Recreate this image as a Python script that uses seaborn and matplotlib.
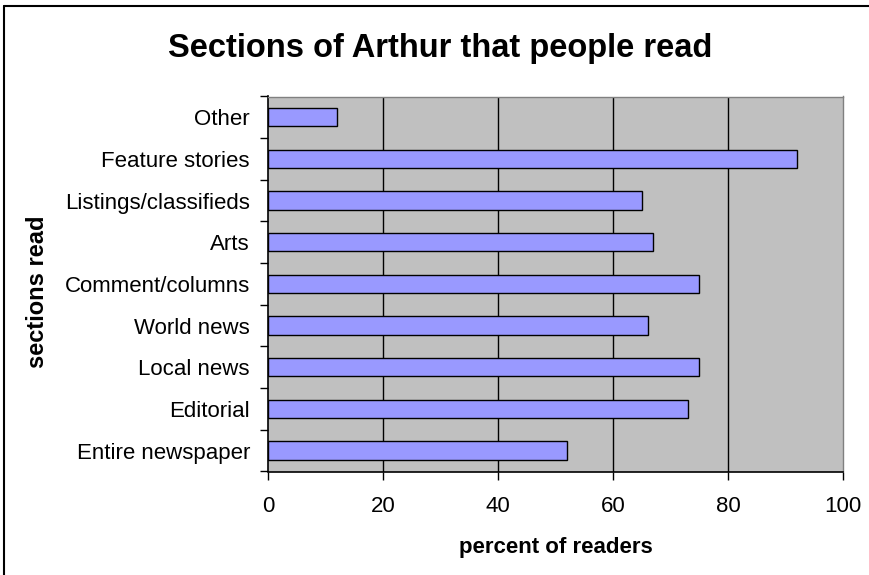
import matplotlib
matplotlib.use("Agg")
import matplotlib.pyplot as plt
import seaborn as sns
import pandas as pd
from matplotlib.lines import Line2D

categories = ["Other", "Feature stories", "Listings/classifieds", "Arts",
              "Comment/columns", "World news", "Local news", "Editorial",
              "Entire newspaper"]
values = [12, 92, 65, 67, 75, 66, 75, 73, 52]
x_ticks = [0, 20, 40, 60, 80, 100]

title = "Sections of Arthur that people read"
x_label = "percent of readers"
y_label = "sections read"

sns.set_style("white")
plt.rcParams["font.family"] = ["Liberation Sans", "DejaVu Sans"]
plt.rcParams["text.color"] = "black"
plt.rcParams["xtick.color"] = "black"
plt.rcParams["ytick.color"] = "black"
plt.rcParams["axes.labelcolor"] = "black"

df = pd.DataFrame({"section": categories, "percent": values})

W, H = 869, 575
left, right, top, bottom = 268, 843, 96.5, 471.5
fig = plt.figure(figsize=(W / 100, H / 100), dpi=100)
ax = fig.add_axes([left / W, 1 - bottom / H, (right - left) / W,
                   (bottom - top) / H])
ax.set_facecolor("#C0C0C0")

sns.barplot(data=df, x="percent", y="section", orient="h", ax=ax,
            color="#9999FF", edgecolor="black", linewidth=1.0,
            width=0.44, saturation=1, zorder=3)

ax.set_xlim(0, 100)
ax.set_ylim(len(categories) - 0.5, -0.5)
ax.set_xticks(x_ticks)
ax.set_xticklabels([str(t) for t in x_ticks], fontsize=16)
ax.tick_params(axis="x", length=6, width=1, color="black", direction="out",
               pad=12, bottom=True, labelcolor="black")
ax.set_yticks(range(len(categories)))
ax.set_yticklabels(categories, fontsize=16)
ax.tick_params(axis="y", which="major", length=0, pad=13, labelcolor="black")
ax.set_yticks([i - 0.5 for i in range(len(categories) + 1)], minor=True)
ax.tick_params(axis="y", which="minor", length=6, width=1, color="black",
               direction="out", left=True)

ax.grid(False)
for t in x_ticks[1:-1]:
    ax.axvline(t, color="black", linewidth=1.0, zorder=1)

for s in ["left", "bottom"]:
    ax.spines[s].set_color("black")
    ax.spines[s].set_linewidth(1.2)
    ax.spines[s].set_visible(True)
for s in ["top", "right"]:
    ax.spines[s].set_color("#808080")
    ax.spines[s].set_linewidth(1.0)
    ax.spines[s].set_visible(True)

ax.set_xlabel(x_label, fontsize=16, fontweight="bold", labelpad=14,
              color="black")
ax.set_ylabel("")
fig.text(38 / W, 1 - 292 / H, y_label, rotation=90, fontsize=17,
         fontweight="bold", ha="center", va="center", color="black")

fig.text(440 / W, 1 - 48 / H, title, fontsize=23.5,
         fontweight="bold", ha="center", va="center", color="black")

# figure border (left and top edges visible)
fig.add_artist(Line2D([3.5 / W, 3.5 / W], [0, 1 - 6 / H],
                      transform=fig.transFigure, color="black", linewidth=1.5))
fig.add_artist(Line2D([3.5 / W, 1], [1 - 6 / H, 1 - 6 / H],
                      transform=fig.transFigure, color="black", linewidth=1.5))

fig.savefig("out.png", dpi=100, facecolor="white")
